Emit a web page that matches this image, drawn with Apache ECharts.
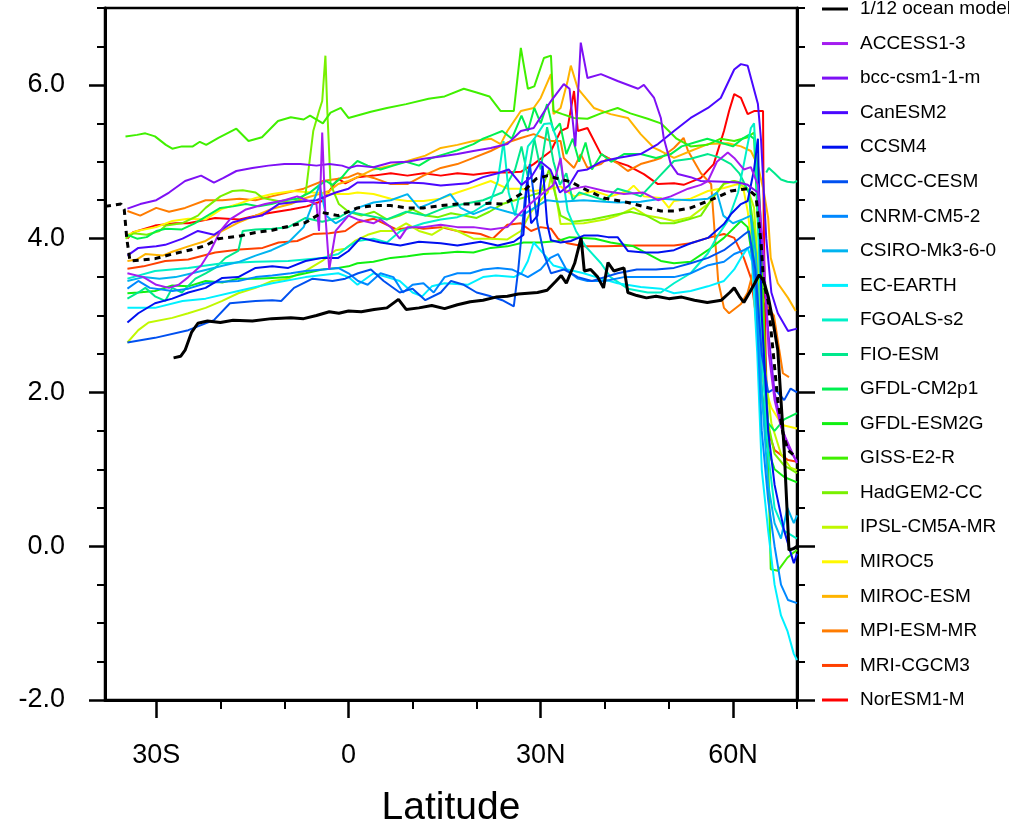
<!DOCTYPE html>
<html><head><meta charset="utf-8">
<script src="https://cdn.jsdelivr.net/npm/echarts@6/dist/echarts.min.js"></script>
<style>html,body{margin:0;padding:0;background:#fff}#c{width:1009px;height:826px}</style>
</head><body><div id="c"></div>
<script>
// ---- axis ticks ----
const xMajorTicks = [-30, 0, 30, 60];
const xMinorTicks = [-20, -10, 10, 20, 40, 50, 70];
const yMajorTicks = [-2, 0, 2, 4, 6];
const yMinorTicks = [-1.5, -1, -0.5, 0.5, 1, 1.5, 2.5, 3, 3.5, 4.5, 5, 5.5, 6.5, 7];

// ---- series names (legend order) ----
const legendNames = ['1/12 ocean model','ACCESS1-3','bcc-csm1-1-m','CanESM2','CCSM4','CMCC-CESM','CNRM-CM5-2','CSIRO-Mk3-6-0','EC-EARTH','FGOALS-s2','FIO-ESM','GFDL-CM2p1','GFDL-ESM2G','GISS-E2-R','HadGEM2-CC','IPSL-CM5A-MR','MIROC5','MIROC-ESM','MPI-ESM-MR','MRI-CGCM3','NorESM1-M'];
const modelColors = ['#000000','#A41CF0','#7E10F5','#4A08FF','#0010F0','#0050F0','#0088FF','#00B4F0','#00F0FF','#00F0C8','#00E88C','#00F050','#10F010','#40F000','#78F000','#C0F800','#FFF800','#FFB400','#FF7C00','#FF4000','#FF0000'];

// ---- data: [latitude, value] ----
const OCEAN_1_12 = [[-27.3,2.45],[-26.2,2.47],[-25.5,2.55],[-24.5,2.78],[-23.5,2.9],[-22,2.93],[-20,2.91],[-18,2.94],[-15,2.93],[-12,2.96],[-9,2.97],[-7,2.96],[-5,3.0],[-3,3.05],[-1.5,3.03],[0,3.06],[2,3.05],[4,3.08],[6,3.1],[7.8,3.21],[9,3.08],[11,3.1],[13,3.13],[15,3.09],[17,3.14],[19,3.18],[21,3.2],[23,3.24],[24.8,3.25],[26.5,3.28],[28,3.29],[29.5,3.3],[31,3.33],[32.4,3.45],[33.2,3.52],[34,3.42],[35.3,3.68],[36.3,4.01],[36.8,3.58],[37.8,3.6],[38.9,3.5],[39.8,3.36],[40.5,3.69],[41.4,3.58],[43,3.62],[43.6,3.3],[45,3.26],[46.5,3.23],[48,3.25],[50,3.22],[52,3.24],[54,3.2],[56,3.17],[58.2,3.2],[59.5,3.3],[60.2,3.36],[61,3.25],[61.7,3.17],[62.6,3.3],[63.4,3.42],[64.1,3.53],[64.8,3.45],[65.5,3.25],[66.3,2.9],[67,2.55],[68,1.25],[68.75,-0.05],[69.5,-0.03],[70,0.0]];
const MODEL_MEAN = [[-38,4.42],[-35.5,4.45],[-35,4.38],[-34.6,4.0],[-34.1,3.71],[-32.8,3.72],[-30.2,3.74],[-27.5,3.8],[-24.4,3.86],[-22.3,3.91],[-20.3,4.0],[-17.2,4.03],[-14.5,4.08],[-11.9,4.11],[-9.4,4.16],[-6.7,4.21],[-4.1,4.34],[-1.6,4.3],[1.4,4.4],[3.9,4.43],[6.6,4.43],[9.2,4.4],[11.7,4.4],[14.4,4.43],[17,4.45],[19.5,4.45],[22.2,4.46],[24.2,4.45],[26.9,4.58],[29.3,4.78],[31.1,4.82],[32.7,4.78],[34.7,4.74],[36.7,4.65],[39.8,4.53],[43.6,4.47],[48.75,4.36],[50.8,4.36],[53.4,4.4],[57,4.52],[59.7,4.62],[62.3,4.65],[63.6,4.55],[64.4,3.94],[64.8,3.42],[65.5,3.19],[66.25,2.55],[67,1.9],[67.8,1.47],[68.6,1.25],[69.8,1.16]];
const ACCESS1_3 = [[-34.5,3.55],[-32,3.5],[-30,3.4],[-28,3.36],[-26.5,3.4],[-25,3.5],[-23,3.65],[-21.5,3.85],[-20,4.1],[-18.5,4.25],[-16,4.38],[-13,4.45],[-10,4.5],[-8,4.55],[-6.5,4.5],[-5,4.45],[-4.6,4.1],[-4.1,5.38],[-3.6,4.3],[-3,3.6],[-2,4.1],[0,4.3],[1.4,4.25],[3.9,4.2],[5,4.25],[6.6,4.15],[8,4.0],[9.2,4.15],[11.7,4.15],[14.4,4.18],[17,4.15],[19.5,4.15],[22.2,4.12],[24.8,4.15],[27,4.35],[29,4.5],[30.5,4.6],[32,4.7],[33.1,5.05],[33.8,4.6],[35,4.65],[37,4.68],[40,4.62],[43,4.58],[46,4.6],[48.3,4.5],[50.3,4.55],[53,4.65],[55,4.7],[56.1,4.75],[57.5,5.0],[59.2,5.12],[60.2,5.05],[61.7,4.9],[62.8,4.93],[63.9,4.7],[64.8,3.8],[65.6,2.5],[66.5,1.9],[67.5,1.55],[68.8,1.3],[70,1.08]];
const BCC_CSM1_1_M = [[-34.5,4.39],[-32.5,4.45],[-30,4.5],[-28,4.6],[-25.5,4.75],[-23,4.82],[-21,4.73],[-19.5,4.79],[-17.5,4.88],[-15,4.92],[-12.5,4.95],[-10,4.97],[-7.5,4.97],[-5,4.95],[-3,4.97],[-1,4.95],[0,4.92],[1.4,4.95],[3.9,4.93],[6.6,4.99],[9.2,5.0],[11.7,5.04],[14.4,5.07],[17,5.1],[19.5,5.14],[22.2,5.18],[24.8,5.23],[26.9,5.4],[28.9,5.44],[31.6,5.79],[33.6,6.01],[34.5,5.95],[35.4,5.2],[36.25,6.55],[37.3,6.09],[39.4,6.14],[42,6.05],[45.2,5.95],[46.1,6.0],[47.7,5.83],[48.75,5.57],[49.2,5.31],[50.3,4.97],[51.4,4.84],[53.4,4.8],[55,4.75],[58.6,4.74],[60.8,4.73],[62.3,4.7],[63.9,4.6],[64.5,4.0],[65.5,2.8],[66.5,2.0],[67.5,1.6],[68.5,1.3],[70,1.1]];
const CANESM2 = [[-34.5,3.78],[-32.8,3.88],[-30,3.9],[-28.6,3.92],[-25.9,4.0],[-23.5,4.1],[-21,4.05],[-18.1,4.21],[-15.6,4.27],[-13.5,4.3],[-10.9,4.45],[-8,4.48],[-5,4.5],[-2,4.6],[0,4.65],[1.4,4.73],[3.9,4.73],[6.6,4.72],[9.2,4.73],[11.7,4.72],[14.4,4.69],[18.6,4.72],[21,4.8],[23.3,4.85],[25,4.9],[27,4.7],[28.5,4.8],[30,5.0],[31.5,4.9],[33,4.6],[34.5,4.7],[35.8,4.88],[37.3,4.9],[39.4,5.0],[42,5.05],[45.6,5.1],[48.3,5.23],[50.8,5.4],[53.4,5.57],[56.1,5.7],[58.1,5.83],[60.2,6.2],[61.25,6.27],[62.3,6.25],[63.9,5.75],[64.4,5.27],[65.2,4.0],[66,3.3],[67,3.03],[68.6,2.8],[70,2.83]];
const CCSM4 = [[-34.5,2.91],[-32.8,3.03],[-30.2,3.16],[-27.5,3.22],[-25,3.3],[-22.3,3.36],[-19.7,3.49],[-17.2,3.5],[-14.5,3.62],[-11.9,3.64],[-9.4,3.62],[-6.7,3.71],[-4.1,3.75],[-1.6,3.75],[0,3.84],[1.9,4.01],[5,3.95],[8.1,3.91],[11,3.96],[14.4,3.94],[17,3.91],[20.6,3.96],[23.3,3.91],[25.8,3.96],[27.3,4.05],[27.9,4.8],[28.5,4.2],[29.5,4.3],[30.3,4.95],[31,4.2],[31.6,3.98],[33.1,3.95],[34.7,3.97],[36.7,4.04],[38.9,4.04],[40.5,4.02],[42,4.02],[43.6,3.84],[46.1,3.82],[48.3,3.82],[50.8,3.85],[53.4,3.94],[56.1,4.01],[58.6,4.19],[59.7,4.32],[61.25,4.45],[62.3,4.49],[63.3,4.9],[63.9,5.3],[64.5,3.0],[65.5,1.5],[66.5,0.8],[68,0.2],[69.5,-0.22],[70,-0.1]];
const CMCC_CESM = [[-34.5,2.65],[-30.2,2.71],[-25,2.81],[-21,2.94],[-18.5,3.16],[-14.5,3.19],[-11.9,3.2],[-10.5,3.19],[-8.5,3.36],[-5.6,3.48],[-2.5,3.45],[-0.5,3.48],[1.5,3.55],[3.5,3.6],[5.5,3.45],[8,3.3],[10,3.35],[12,3.2],[14.4,3.3],[16,3.45],[18,3.4],[20,3.3],[22.2,3.25],[24,3.2],[25.8,3.12],[26.5,3.6],[27.5,4.5],[28.3,4.97],[29.5,4.2],[30.5,3.8],[31.6,3.55],[33.6,3.6],[35.8,3.5],[38,3.45],[40,3.5],[42,3.55],[45,3.6],[48,3.6],[50.8,3.62],[53.4,3.68],[56.1,3.75],[58.6,3.85],[60.2,3.95],[61.7,4.05],[62.5,4.1],[63.5,3.6],[64.5,2.5],[65.5,2.0],[66.5,2.05],[68,1.9],[69,2.05],[70,2.0]];
const CNRM_CM5_2 = [[-34.5,3.35],[-32.8,3.45],[-31,3.36],[-27.5,3.32],[-25,3.35],[-22.3,3.42],[-19.7,3.44],[-17.2,3.45],[-14.5,3.5],[-11.9,3.52],[-9,3.55],[-6.7,3.58],[-4,3.6],[-1.6,3.62],[0,3.55],[1.5,3.45],[3,3.4],[5,3.55],[7,3.5],[8.5,3.3],[10,3.4],[11.7,3.42],[13.3,3.3],[15,3.5],[17,3.55],[19,3.55],[21,3.6],[23.3,3.62],[25.5,3.6],[28,3.5],[30,3.6],[31.5,3.75],[32.7,3.8],[34,3.6],[35.8,3.48],[37.3,3.45],[40,3.45],[43,3.5],[46,3.5],[48.75,3.5],[50.8,3.5],[53.4,3.55],[56,3.65],[58.6,3.7],[60.2,3.8],[61.7,3.85],[62.8,3.9],[63.6,3.3],[64.5,1.5],[65.5,0.6],[66.5,0.0],[67.5,-0.5],[68.6,-0.7],[70,-0.74]];
const CSIRO_MK3_6_0 = [[-34.5,3.45],[-32,3.5],[-29.5,3.48],[-27,3.5],[-24.4,3.55],[-22,3.6],[-19.5,3.65],[-17,3.7],[-14.5,3.78],[-12,3.85],[-9.4,3.95],[-7,4.15],[-5.6,4.45],[-4.5,4.7],[-3.5,4.3],[-2,4.2],[0,4.3],[1.4,4.4],[3.9,4.47],[6.6,4.5],[9.2,4.58],[11,4.4],[12.5,4.45],[15.9,4.58],[17.5,4.4],[19.5,4.32],[22.2,4.41],[24.8,4.35],[27,4.3],[29,4.4],[31,4.5],[33,4.48],[36.7,4.5],[40,4.48],[42,4.47],[45.6,4.48],[48.75,4.52],[50.8,4.51],[53.4,4.5],[56.1,4.52],[57.5,4.6],[58.5,4.3],[60,4.2],[61.5,4.25],[62.8,4.3],[63.6,3.8],[64.5,2.0],[65.5,0.8],[66.5,0.3],[67.5,0.1],[68.5,0.5],[69.5,0.3],[70,0.4]];
const EC_EARTH = [[-34.5,3.1],[-30.2,3.1],[-25.9,3.19],[-22.3,3.22],[-17.2,3.32],[-11.9,3.42],[-6.7,3.5],[-1.6,3.55],[0,3.5],[1.4,3.4],[3.9,3.55],[6,3.5],[8,3.45],[10,3.3],[11.5,3.25],[13,3.38],[15,3.42],[18.6,3.4],[21,3.5],[23,3.52],[25.8,3.5],[27,3.55],[28,3.71],[28.9,3.95],[30.5,3.8],[32,3.65],[34.2,3.6],[36.7,3.55],[39.4,3.48],[42,3.42],[45.6,3.37],[48.75,3.35],[50.8,3.29],[53.4,3.32],[56.1,3.38],[58.6,3.45],[60.2,3.6],[61.25,3.75],[62.3,3.88],[63,3.7],[63.8,2.5],[64.5,1.0],[65.5,0.2],[66.5,-0.5],[67.5,-0.9],[68.5,-1.1],[69.5,-1.4],[70,-1.48]];
const FGOALS_S2 = [[-34.5,3.48],[-30.2,3.58],[-25,3.62],[-19.7,3.68],[-14.5,3.7],[-9.4,3.71],[-4.1,3.75],[-1.6,3.8],[0,3.9],[1.4,3.97],[3.9,4.0],[6,3.95],[8.1,4.1],[11.7,4.2],[14.4,4.25],[17,4.28],[19.5,4.35],[22.2,4.49],[23.3,4.75],[24.2,5.27],[25,4.6],[26,4.3],[27,4.7],[28,5.2],[29,5.3],[30.5,5.49],[31.6,5.5],[32.5,5.3],[33.1,5.0],[34.2,4.36],[35.5,4.1],[37,3.9],[39.4,3.68],[40.9,3.5],[43.6,3.35],[46.7,3.3],[48.75,3.3],[50.8,3.42],[53.4,3.55],[56.1,3.81],[57.7,4.05],[59.2,4.23],[60.8,4.6],[61.7,4.97],[62.8,5.44],[63.3,5.5],[63.9,4.5],[64.5,2.5],[65.5,1.2],[66.5,0.5],[68,0.2],[70,0.1]];
const FIO_ESM = [[-34.5,3.22],[-32.8,3.3],[-31.7,3.36],[-30.2,3.25],[-28.6,3.19],[-27.5,3.36],[-26,3.3],[-23.9,3.48],[-22.3,3.55],[-20.8,3.62],[-19.2,3.75],[-17.2,3.84],[-16.5,4.1],[-14.5,4.12],[-11.9,4.13],[-9.4,4.15],[-6.7,4.27],[-4.1,4.22],[-1.6,4.27],[0,4.35],[3,4.3],[6,4.25],[9,4.35],[12,4.3],[15,4.4],[18,4.45],[21,4.5],[24,4.6],[26,4.9],[27,5.2],[28,4.8],[29,5.3],[30,4.9],[31,5.45],[32,5.0],[33,4.7],[34,4.85],[35,4.5],[36,4.6],[38,4.55],[40,4.5],[42,4.65],[44,4.6],[45.6,4.55],[48.3,4.79],[50.8,5.01],[53.4,5.04],[56.1,5.1],[57.7,5.06],[59.7,4.97],[61,4.85],[62.5,4.6],[63.5,3.5],[64.5,2.0],[65.2,1.4],[65.3,'-'],[65.2,4.86],[65.6,4.92],[66.5,4.85],[67.5,4.77],[68.5,4.74],[69.5,4.73],[70,4.75]];
const GFDL_CM2P1 = [[-34.5,4.05],[-33,4.0],[-31.5,4.02],[-30,4.1],[-28.5,4.13],[-26,4.12],[-24,4.2],[-22,4.3],[-20,4.4],[-18,4.42],[-16,4.45],[-14,4.42],[-12,4.45],[-10,4.5],[-8,4.52],[-6,4.6],[-4.5,4.7],[-3.5,4.75],[-2.5,4.7],[-1,4.8],[0,4.9],[1.4,5.01],[3,4.95],[5,4.9],[7,4.95],[9,5.0],[11,4.95],[13,5.05],[15,5.1],[17,5.15],[19.5,5.23],[21,5.3],[22.5,5.35],[24,5.4],[25.5,5.3],[27,5.6],[28,5.4],[29,5.7],[30,5.5],[31,5.75],[32,5.4],[33,5.5],[34,5.1],[35,5.3],[36,5.0],[37,5.25],[38,4.9],[39.5,5.1],[41,5.0],[43,5.1],[45.6,5.1],[48,5.05],[50.3,5.1],[52,5.2],[54,5.25],[56,5.3],[58,5.25],[60,5.2],[61.5,5.3],[62.5,5.35],[63.3,5.3],[64,4.0],[64.8,2.5],[65.5,1.6],[66.5,1.5],[68,1.65],[70,1.73]];
const GFDL_ESM2G = [[-34.5,3.29],[-32.8,3.3],[-30.2,3.32],[-27.5,3.39],[-25,3.38],[-22.3,3.45],[-19.7,3.43],[-17.2,3.48],[-14.5,3.48],[-11.9,3.49],[-9.4,3.5],[-6.7,3.55],[-4.1,3.6],[-1.6,3.62],[0,3.64],[1.4,3.68],[3.9,3.7],[6.6,3.75],[9.2,3.77],[11.7,3.8],[14.4,3.81],[17,3.83],[19.5,3.82],[22.2,3.88],[24.8,3.9],[27.3,3.95],[30,3.95],[32.7,3.97],[34.5,4.02],[36.7,4.01],[38.5,4.0],[40.9,3.95],[44.5,3.9],[48.75,3.71],[50.8,3.68],[53.4,3.7],[56.1,3.85],[58.6,4.01],[61.25,4.23],[62.3,4.15],[63.3,3.6],[64.3,2.2],[65.3,1.3],[66.5,1.0],[68,0.9],[70,0.83]];
const GISS_E2_R = [[-34.8,5.33],[-33,5.35],[-31.7,5.37],[-30.2,5.33],[-28.5,5.22],[-27.5,5.17],[-26,5.2],[-24.3,5.2],[-23.2,5.26],[-22.2,5.22],[-20.3,5.31],[-17.5,5.43],[-15.6,5.27],[-13.5,5.32],[-11,5.53],[-9,5.58],[-7,5.55],[-6,5.6],[-4,5.5],[-2.8,5.64],[-1.2,5.7],[0,5.57],[3.5,5.65],[6,5.7],[9,5.75],[12.5,5.82],[15,5.85],[18,5.95],[20,5.9],[22,5.85],[23.75,5.66],[25.8,5.66],[26.9,6.48],[28,5.95],[29,5.98],[30.5,6.35],[31.6,6.38],[32,5.66],[33.4,5.62],[35.2,5.57],[37.3,5.56],[39.4,5.63],[42,5.7],[44,5.63],[46.7,5.56],[48.75,5.5],[50,5.4],[51.2,5.3],[53.4,5.2],[56,5.22],[58.1,5.3],[60.2,5.27],[62.3,5.32],[63.3,5.38],[63.6,5.2],[64.3,4.3],[65,2.5],[65.6,0.8],[65.9,-0.3],[67,-0.32],[68.5,-0.15],[69.2,-0.1],[70,-0.05]];
const HADGEM2_CC = [[-34.8,4.0],[-33.5,4.07],[-31.5,4.05],[-29.5,4.1],[-28.5,4.17],[-26,4.2],[-23.5,4.3],[-22.3,4.4],[-20,4.55],[-18.1,4.62],[-16.5,4.63],[-14.5,4.6],[-13.4,4.53],[-11,4.49],[-9,4.47],[-7.8,4.5],[-6.7,4.58],[-5.5,5.4],[-4.6,5.66],[-4.1,5.79],[-3.6,6.38],[-3.3,5.66],[-2.8,4.71],[-1.5,4.45],[0,4.35],[2,4.3],[4,4.35],[6,4.25],[8,4.3],[10,4.38],[12,4.3],[14,4.28],[16,4.33],[18,4.3],[20,4.27],[22,4.35],[24,4.45],[26,4.5],[28,4.55],[30,4.6],[31.3,4.9],[32.2,4.6],[33.1,4.3],[35,4.22],[38,4.25],[41,4.3],[44,4.35],[46.5,4.3],[48.75,4.2],[50.8,4.2],[53,4.25],[55,4.3],[57,4.55],[58.6,4.72],[60.2,4.75],[61.7,4.72],[62.5,4.6],[63.3,4.1],[64.5,2.5],[65.5,1.6],[66.5,1.2],[68,1.05],[70,0.95]];
const IPSL_CM5A_MR = [[-34.5,2.65],[-32.8,2.81],[-31.2,2.91],[-27.5,2.97],[-25,3.03],[-22.3,3.1],[-19.7,3.19],[-17.2,3.29],[-14.5,3.36],[-11.9,3.45],[-9.4,3.48],[-6.7,3.58],[-4.1,3.71],[-2,3.85],[-0.5,3.87],[1,3.97],[3,4.05],[5,4.1],[7,4.1],[9,4.2],[11,4.1],[13,4.05],[15,4.15],[17,4.1],[19.5,4.0],[22,4.0],[24.8,3.99],[26.9,4.1],[28.5,4.35],[30,4.5],[31.1,4.6],[31.7,4.85],[32.5,4.5],[33.1,4.19],[36.7,4.2],[40,4.25],[42,4.3],[44.5,4.4],[46.5,4.3],[48.75,4.27],[50.8,4.23],[53.4,4.28],[56.1,4.45],[58.6,4.71],[60.2,4.75],[61.2,4.7],[62.3,4.65],[63.3,4.4],[64,3.5],[65,2.3],[66,1.6],[67.5,1.2],[69,1.02],[70,0.99]];
const MIROC5 = [[-34.5,4.05],[-33,4.1],[-30,4.15],[-27.5,4.23],[-25,4.26],[-22.3,4.25],[-19.7,4.39],[-17.2,4.45],[-14.5,4.53],[-11.9,4.58],[-8.75,4.62],[-5.6,4.6],[-2.5,4.58],[0,4.58],[1.4,4.6],[3.9,4.58],[6.6,4.52],[9.2,4.49],[11.7,4.49],[14.4,4.52],[17,4.6],[19.5,4.67],[22.2,4.75],[24.8,4.65],[26.9,4.65],[28.9,4.62],[31.1,4.64],[33.1,4.68],[35.2,4.55],[38.3,4.62],[40.9,4.55],[43.6,4.62],[44.5,4.69],[46.1,4.55],[48.75,4.53],[50,4.4],[50.8,4.49],[53.4,4.52],[56.1,4.62],[58.6,4.66],[60.8,4.71],[61.7,4.62],[62.3,4.36],[62.8,4.0],[63.5,3.0],[64.5,2.2],[66,1.8],[67.5,1.6],[68,1.57],[70,1.53]];
const MIROC_ESM = [[-34.5,3.71],[-33,3.73],[-31.7,3.8],[-29,3.78],[-27.5,3.83],[-25,3.9],[-22.3,3.97],[-19.7,4.1],[-17.2,4.21],[-14.5,4.3],[-11.9,4.39],[-9,4.45],[-6.7,4.53],[-3,4.62],[-1.6,4.71],[0,4.75],[1.4,4.8],[3.9,4.9],[6.6,4.95],[9.2,5.01],[12,5.08],[14.4,5.18],[17,5.22],[19.5,5.27],[22.2,5.3],[23.75,5.23],[24.8,5.4],[26.9,5.66],[28.9,5.7],[30,5.83],[31.6,6.14],[32,5.62],[33.1,5.7],[34.2,6.05],[34.7,6.25],[35.8,5.95],[38.3,5.7],[40.9,5.62],[43.6,5.57],[45.6,5.36],[47.7,5.18],[48.75,5.14],[50.8,5.05],[53.4,5.14],[56.1,5.23],[59.2,5.24],[61.25,5.2],[62.8,5.14],[63.9,4.95],[64.8,4.62],[65.5,4.27],[65.9,3.75],[67,3.42],[68.6,3.23],[69.8,3.06]];
const MPI_ESM_MR = [[-34.5,4.36],[-32.5,4.3],[-30,4.4],[-28,4.35],[-25.5,4.4],[-22.3,4.5],[-19.7,4.5],[-17,4.52],[-14.5,4.5],[-12,4.55],[-9.5,4.6],[-7,4.65],[-4,4.75],[-1.6,4.78],[0,4.8],[1.4,4.85],[3.9,4.79],[6.6,4.71],[9.2,4.71],[11.7,4.82],[14.4,4.92],[17,4.97],[19.5,5.05],[22.2,5.14],[24.8,5.25],[26.9,5.31],[28.9,5.36],[31.6,5.27],[33.1,5.27],[33.6,5.05],[35.2,4.92],[36.25,5.1],[37.3,4.92],[39.4,4.97],[40.5,5.05],[42,4.98],[43.6,4.88],[45.6,4.97],[47.7,5.02],[48.75,5.05],[50.8,5.18],[52.3,5.31],[53,5.14],[55,4.85],[56.6,4.71],[57.7,3.45],[58.6,3.1],[59.4,3.03],[61.25,3.15],[62.3,3.3],[63.3,3.62],[64.3,3.3],[65.5,3.1],[66.4,3.0],[67.8,2.25],[68.75,2.2]];
const MRI_CGCM3 = [[-34.5,3.61],[-32,3.64],[-28.6,3.71],[-25,3.73],[-20.8,3.82],[-17,3.86],[-13.4,3.88],[-10.9,3.95],[-8,3.97],[-5.5,4.06],[-3,4.07],[-0.5,4.1],[1.4,4.21],[3.9,4.26],[5.5,4.2],[7.5,4.12],[10,4.15],[11.7,4.13],[14.4,4.15],[17,4.1],[20.6,4.06],[22.5,4.0],[24.8,4.18],[26.9,4.2],[28.5,4.1],[30,4.15],[31.6,4.13],[32.7,4.0],[34.2,3.94],[36.7,3.9],[40,3.9],[45,3.91],[48.75,3.91],[50.8,3.91],[53.4,3.94],[56.1,4.01],[58.6,4.06],[60.2,4.01],[61.7,3.75],[62.8,3.49],[63.6,3.0],[64.5,2.0],[65.5,1.5],[66.5,1.25],[68.6,1.12],[70,1.1]];
const NORESM1_M = [[-34.5,4.0],[-33.7,4.08],[-30.2,4.17],[-27,4.2],[-25,4.2],[-20.8,4.27],[-17,4.25],[-14.5,4.3],[-11.9,4.34],[-9,4.38],[-6.5,4.42],[-4.1,4.49],[-1.6,4.78],[-0.5,4.72],[1.4,4.8],[3.9,4.82],[6.6,4.85],[9.2,4.82],[11.7,4.85],[14.4,4.82],[17,4.85],[19.5,4.83],[22.2,4.86],[24.8,4.86],[26.9,4.87],[28.9,4.97],[31.6,5.14],[33.1,5.4],[34.2,5.44],[35.2,5.92],[35.8,5.4],[37.3,5.44],[39.4,5.1],[41.4,5.01],[43.6,4.95],[46.1,4.84],[48.3,4.71],[50.8,4.72],[52.3,4.7],[55,4.79],[57,4.97],[58.6,5.4],[59.4,5.66],[60.2,5.88],[61.25,5.83],[62.3,5.62],[63.3,5.66],[64.7,5.66],[64.8,4.3],[65.1,2.5],[65.6,1.02]];

const modelData = [OCEAN_1_12, ACCESS1_3, BCC_CSM1_1_M, CANESM2, CCSM4, CMCC_CESM, CNRM_CM5_2, CSIRO_MK3_6_0, EC_EARTH, FGOALS_S2, FIO_ESM, GFDL_CM2P1, GFDL_ESM2G, GISS_E2_R, HADGEM2_CC, IPSL_CM5A_MR, MIROC5, MIROC_ESM, MPI_ESM_MR, MRI_CGCM3, NORESM1_M];

const FONT = '"Liberation Sans", Arial, Helvetica, sans-serif';
const latLabel = v => v < 0 ? (-v) + 'S' : (v > 0 ? v + 'N' : '0');

const series = [];
for (let i = legendNames.length - 1; i >= 1; i--) {
  series.push({
    name: legendNames[i], type: 'line', data: modelData[i], symbol: 'none',
    xAxisIndex: 0, yAxisIndex: 0, z: 2,
    itemStyle: {color: modelColors[i]},
    lineStyle: {color: modelColors[i], width: 2}
  });
}
series.push({
  name: 'multi-model mean', type: 'line', data: MODEL_MEAN, symbol: 'none', z: 4,
  itemStyle: {color: '#000'}, lineStyle: {color: '#000', width: 3, type: [6, 5]}
});
series.push({
  name: legendNames[0], type: 'line', data: OCEAN_1_12, symbol: 'none', z: 5,
  itemStyle: {color: '#000'}, lineStyle: {color: '#000', width: 3}
});

const axisLineStyle = {color: '#000', width: 3};
const yBase = {type: 'value', min: -2, max: 7, splitLine: {show: false}};
const xBase = {type: 'value', min: -38, max: 70, splitLine: {show: false}};

const option = {
  animation: false,
  backgroundColor: '#fff',
  grid: {left: 105, right: 212, top: 8, bottom: 126, containLabel: false, outerBoundsMode: 'none',
         show: true, borderColor: '#000', borderWidth: 2.5, backgroundColor: 'transparent'},
  legend: {
    data: legendNames, orient: 'vertical', left: 822, top: -1, padding: 0,
    icon: 'rect', itemWidth: 26, itemHeight: 3, itemGap: 14.55,
    textStyle: {fontFamily: FONT, fontSize: 19, color: '#000', lineHeight: 20, padding: [0, 0, 0, 7]},
    selectedMode: false
  },
  xAxis: [
    Object.assign({}, xBase, {
      position: 'bottom', axisLine: {show: true, onZero: false, lineStyle: axisLineStyle},
      axisTick: {show: true, customValues: xMinorTicks, length: 9, lineStyle: {color: '#000', width: 2}},
      axisLabel: {show: false}
    }),
    Object.assign({}, xBase, {
      position: 'bottom', axisLine: {show: false, onZero: false},
      axisTick: {show: true, customValues: xMajorTicks, length: 18, lineStyle: {color: '#000', width: 2.5}},
      axisLabel: {show: true, customValues: xMajorTicks, formatter: latLabel, margin: 42, fontFamily: FONT, fontSize: 27, color: '#000'},
      name: 'Latitude', nameLocation: 'middle', nameGap: 89,
      nameTextStyle: {fontFamily: FONT, fontSize: 39, color: '#000'}
    })
  ],
  yAxis: [
    Object.assign({}, yBase, {
      position: 'left', axisLine: {show: true, onZero: false, lineStyle: axisLineStyle},
      axisTick: {show: true, customValues: yMajorTicks, length: 16, lineStyle: {color: '#000', width: 2.5}},
      axisLabel: {show: true, customValues: yMajorTicks, formatter: v => v.toFixed(1), margin: 40, fontFamily: FONT, fontSize: 27, color: '#000'}
    }),
    Object.assign({}, yBase, {
      position: 'left', axisLine: {show: false, onZero: false},
      axisTick: {show: true, customValues: yMinorTicks, length: 8, lineStyle: {color: '#000', width: 2}},
      axisLabel: {show: false}
    }),
    Object.assign({}, yBase, {
      position: 'right', axisLine: {show: true, onZero: false, lineStyle: axisLineStyle},
      axisTick: {show: true, customValues: yMajorTicks, length: 18, lineStyle: {color: '#000', width: 2.5}},
      axisLabel: {show: false}
    }),
    Object.assign({}, yBase, {
      position: 'right', axisLine: {show: false, onZero: false},
      axisTick: {show: true, customValues: yMinorTicks, length: 8, lineStyle: {color: '#000', width: 2}},
      axisLabel: {show: false}
    })
  ],
  series: series
};

const chart = echarts.init(document.getElementById('c'), null, {renderer: 'canvas'});
chart.setOption(option);
</script>
</body></html>
